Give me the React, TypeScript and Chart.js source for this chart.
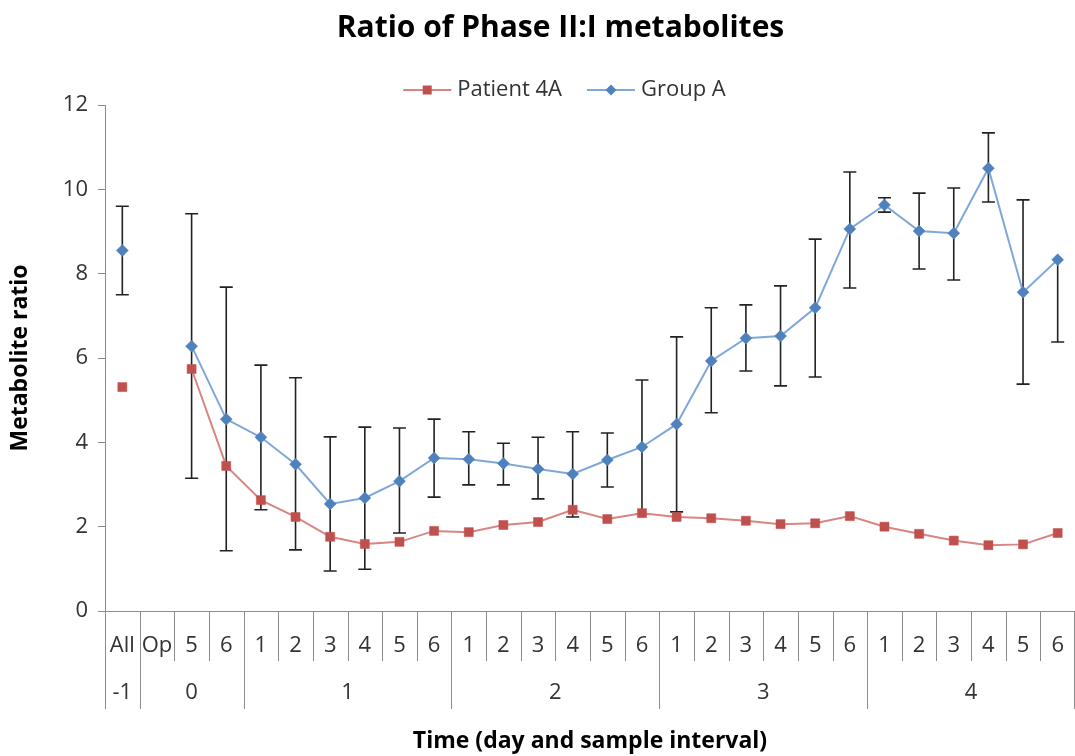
import React, { useEffect, useRef } from 'react';
import { Chart, registerables } from 'chart.js';

Chart.register(...registerables);

// ---- data ----
const chartTitle = 'Ratio of Phase II:I metabolites';
const sampleLabels = [
  'All', 'Op', '5', '6',
  '1', '2', '3', '4', '5', '6',
  '1', '2', '3', '4', '5', '6',
  '1', '2', '3', '4', '5', '6',
  '1', '2', '3', '4', '5', '6',
];
const dayLabels = [
  '-1', '0', '0', '0',
  '1', '1', '1', '1', '1', '1',
  '2', '2', '2', '2', '2', '2',
  '3', '3', '3', '3', '3', '3',
  '4', '4', '4', '4', '4', '4',
];
const patient4A = [
  5.31, null, 5.74, 3.44,
  2.63, 2.23, 1.76, 1.59, 1.64, 1.90,
  1.87, 2.04, 2.11, 2.40, 2.18, 2.32,
  2.23, 2.20, 2.14, 2.06, 2.08, 2.25,
  2.00, 1.83, 1.67, 1.56, 1.58, 1.85,
];
const groupA = [
  8.55, null, 6.28, 4.55,
  4.12, 3.48, 2.54, 2.68, 3.08, 3.63,
  3.60, 3.50, 3.37, 3.25, 3.58, 3.89,
  4.43, 5.93, 6.47, 6.52, 7.19, 9.06,
  9.63, 9.01, 8.96, 10.50, 7.56, 8.33,
];
const groupAHigh = [
  9.60, null, 9.42, 7.68,
  5.83, 5.53, 4.13, 4.36, 4.34, 4.55,
  4.25, 3.98, 4.12, 4.25, 4.22, 5.48,
  6.50, 7.19, 7.26, 7.71, 8.82, 10.41,
  9.80, 9.91, 10.03, 11.34, 9.75, null,
];
const groupALow = [
  7.50, null, 3.15, 1.43,
  2.40, 1.45, 0.95, 0.99, 1.85, 2.70,
  2.99, 2.99, 2.66, 2.23, 2.94, 2.30,
  2.35, 4.70, 5.69, 5.34, 5.55, 7.66,
  9.46, 8.11, 7.85, 9.70, 5.38, 6.38,
];
const yTicksMin = 0;
const yTicksMax = 12;
const yTickStep = 2;

// ---- styles ----
const FONT = '"Open Sans", "DejaVu Sans", sans-serif';
const TEXT = '#333333';
const AXIS = '#8c8c8c';
const RED = '#C0504D';
const RED_LINE = '#D98583';
const BLUE = '#4F81BD';
const BLUE_LINE = '#7FA7D8';

const errorBarPlugin = {
  id: 'errorBars',
  beforeDatasetsDraw(chart: any) {
    const ctx = chart.ctx;
    const xs = chart.scales.x;
    const ys = chart.scales.y;
    ctx.save();
    ctx.strokeStyle = '#222222';
    ctx.lineWidth = 1.6;
    const cap = 6.5;
    for (let i = 0; i < groupA.length; i++) {
      const v = groupA[i];
      if (v == null) continue;
      const x = xs.getPixelForValue(i);
      const hi = groupAHigh[i] == null ? v : groupAHigh[i];
      const lo = groupALow[i] == null ? v : groupALow[i];
      const yh = ys.getPixelForValue(hi);
      const yl = ys.getPixelForValue(lo);
      ctx.beginPath();
      ctx.moveTo(x, yh);
      ctx.lineTo(x, yl);
      if (groupAHigh[i] != null) {
        ctx.moveTo(x - cap, yh);
        ctx.lineTo(x + cap, yh);
      }
      if (groupALow[i] != null) {
        ctx.moveTo(x - cap, yl);
        ctx.lineTo(x + cap, yl);
      }
      ctx.stroke();
    }
    ctx.restore();
  },
};

const multiAxisPlugin = {
  id: 'multiAxis',
  afterDraw(chart: any) {
    const ctx = chart.ctx;
    const xs = chart.scales.x;
    const n = sampleLabels.length;
    const half = (xs.getPixelForValue(1) - xs.getPixelForValue(0)) / 2;
    const top = xs.top;
    ctx.save();
    ctx.strokeStyle = AXIS;
    ctx.lineWidth = 1;
    for (let i = 0; i <= n; i++) {
      const x = i < n ? xs.getPixelForValue(i) - half : xs.getPixelForValue(n - 1) + half;
      const isGroup = i === 0 || i === n || dayLabels[i] !== dayLabels[i - 1];
      const xx = Math.min(Math.round(x) + 0.5, chart.width - 0.5);
      ctx.beginPath();
      ctx.moveTo(xx, top);
      ctx.lineTo(xx, top + (isGroup ? 98 : 50));
      ctx.stroke();
    }
    // group labels
    ctx.fillStyle = TEXT;
    ctx.font = `22px ${FONT}`;
    ctx.textAlign = 'center';
    ctx.textBaseline = 'middle';
    let start = 0;
    for (let i = 1; i <= n; i++) {
      if (i === n || dayLabels[i] !== dayLabels[start]) {
        const cx = (xs.getPixelForValue(start) + xs.getPixelForValue(i - 1)) / 2;
        ctx.fillText(dayLabels[start], cx, top + 82);
        start = i;
      }
    }
    ctx.restore();

    // title
    ctx.save();
    ctx.fillStyle = '#000000';
    ctx.font = `bold 30px ${FONT}`;
    ctx.textAlign = 'center';
    ctx.textBaseline = 'middle';
    ctx.fillText(chartTitle, chart.width / 2 + 23, 28);
    ctx.restore();

    // legend
    const items = [
      { text: 'Patient 4A', line: RED_LINE, fill: RED, style: 'rect' },
      { text: 'Group A', line: BLUE_LINE, fill: BLUE, style: 'diamond' },
    ];
    ctx.save();
    ctx.font = `22px ${FONT}`;
    const segW = 48;
    const gapText = 6;
    const gapItem = 25;
    let total = 0;
    items.forEach((it, k) => {
      total += segW + gapText + ctx.measureText(it.text).width + (k > 0 ? gapItem : 0);
    });
    let x = chart.width / 2 + 27 - total / 2;
    const y = 90;
    items.forEach((it) => {
      ctx.strokeStyle = it.line;
      ctx.lineWidth = 2;
      ctx.beginPath();
      ctx.moveTo(x, y);
      ctx.lineTo(x + segW, y);
      ctx.stroke();
      const mx = x + segW / 2;
      ctx.fillStyle = it.fill;
      ctx.beginPath();
      if (it.style === 'rect') {
        ctx.rect(mx - 4.5, y - 4.5, 9, 9);
      } else {
        ctx.moveTo(mx - 5.5, y);
        ctx.lineTo(mx, y - 5.5);
        ctx.lineTo(mx + 5.5, y);
        ctx.lineTo(mx, y + 5.5);
        ctx.closePath();
      }
      ctx.fill();
      ctx.fillStyle = TEXT;
      ctx.textAlign = 'left';
      ctx.textBaseline = 'middle';
      ctx.fillText(it.text, x + segW + gapText, y);
      x += segW + gapText + ctx.measureText(it.text).width + gapItem;
    });
    ctx.restore();
  },
};

export default function App() {
  const ref = useRef<HTMLCanvasElement | null>(null);

  useEffect(() => {
    if (!ref.current) return;
    const chart = new Chart(ref.current, {
      type: 'line',
      data: {
        labels: sampleLabels,
        datasets: [
          {
            label: 'Patient 4A',
            data: patient4A,
            borderColor: RED_LINE,
            backgroundColor: RED,
            borderWidth: 2,
            pointStyle: 'rect',
            pointRadius: 6.4,
            pointBackgroundColor: RED,
            pointBorderColor: RED,
            pointBorderWidth: 0.5,
            spanGaps: false,
            tension: 0,
            clip: false,
          },
          {
            label: 'Group A',
            data: groupA,
            borderColor: BLUE_LINE,
            backgroundColor: BLUE,
            borderWidth: 2,
            pointStyle: 'rectRot',
            pointRadius: 6,
            pointBackgroundColor: BLUE,
            pointBorderColor: BLUE,
            pointBorderWidth: 0.5,
            spanGaps: false,
            tension: 0,
            clip: false,
          },
        ],
      },
      options: {
        responsive: false,
        animation: false,
        layout: { autoPadding: false, padding: { top: 105, left: 0, right: 0, bottom: 0 } },
        plugins: {
          legend: { display: false },
          tooltip: { enabled: false },
          title: { display: false },
        },
        scales: {
          x: {
            type: 'category',
            offset: true,
            grid: { display: false, drawTicks: false },
            border: { display: true, color: AXIS, width: 1 },
            ticks: {
              font: { family: FONT, size: 22 },
              color: TEXT,
              padding: 22,
              autoSkip: false,
              maxRotation: 0,
            },
            title: {
              display: true,
              text: 'Time (day and sample interval)',
              color: '#000000',
              font: { family: FONT, size: 23, weight: 'bold' },
              padding: { top: 0, bottom: 1 },
            },
            afterFit: (s: any) => {
              s.height = 145;
              s.paddingLeft = 0;
              s.paddingRight = 0;
            },
          },
          y: {
            min: yTicksMin,
            max: yTicksMax,
            grid: { display: true, drawOnChartArea: false, drawTicks: true, tickLength: 7, color: AXIS },
            border: { display: true, color: AXIS, width: 1 },
            ticks: {
              stepSize: yTickStep,
              font: { family: FONT, size: 22 },
              color: TEXT,
              padding: 10,
            },
            title: {
              display: true,
              text: 'Metabolite ratio',
              color: '#000000',
              font: { family: FONT, size: 23, weight: 'bold' },
              padding: { top: 7, bottom: 0 },
            },
            afterFit: (s: any) => {
              s.width = 105;
              s.paddingTop = 0;
              s.paddingBottom = 0;
            },
          },
        },
      },
      plugins: [errorBarPlugin, multiAxisPlugin],
    });
    return () => chart.destroy();
  }, []);

  return (
    <div style={{ position: 'absolute', left: 0, top: 0, width: 1075, height: 756, background: '#ffffff' }}>
      <canvas ref={ref} width={1075} height={756} />
    </div>
  );
}
